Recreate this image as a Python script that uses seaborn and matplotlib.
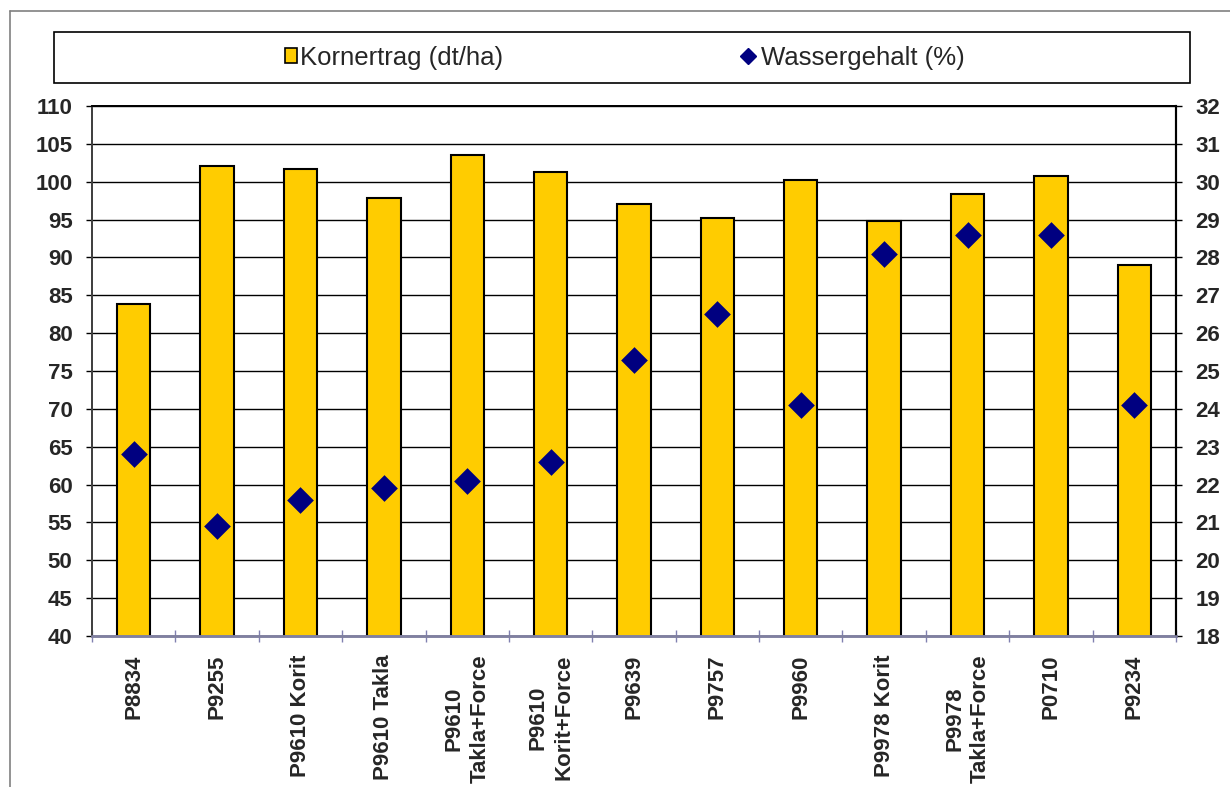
import matplotlib
matplotlib.use("Agg")
import matplotlib.pyplot as plt
import seaborn as sns
import pandas as pd
from matplotlib.patches import Patch, Rectangle
from matplotlib.lines import Line2D
from matplotlib.ticker import MultipleLocator, FixedLocator

categories = ["P8834", "P9255", "P9610 Korit", "P9610 Takla", "P9610\nTakla+Force",
              "P9610\nKorit+Force", "P9639", "P9757", "P9960", "P9978 Korit",
              "P9978\nTakla+Force", "P0710", "P9234"]
kornertrag = [83.8, 102.1, 101.7, 97.8, 103.5, 101.3, 97.1, 95.2, 100.2, 94.8, 98.4, 100.8, 89.0]
wassergehalt = [22.8, 20.9, 21.6, 21.9, 22.1, 22.6, 25.3, 26.5, 24.1, 28.1, 28.6, 28.6, 24.1]
label_bar = "Kornertrag (dt/ha)"
label_pts = "Wassergehalt (%)"

sns.set_style("white")
plt.rcParams['font.family'] = ['Liberation Sans', 'DejaVu Sans']

BAR = "#FFCC00"
NAVY = "#000080"

df = pd.DataFrame({"Sorte": categories, "Kornertrag": kornertrag, "Wassergehalt": wassergehalt})

W, H = 1230, 787
fig = plt.figure(figsize=(W / 100, H / 100), dpi=100)
ax = fig.add_axes([92 / W, 1 - 636 / H, (1176 - 92) / W, (636 - 106) / H])

sns.barplot(data=df, x="Sorte", y="Kornertrag", color=BAR, saturation=1,
            edgecolor="black", linewidth=1.5, width=0.4, ax=ax, zorder=2)
ax.set_ylim(40, 110)
ax.set_xlim(-0.5, len(categories) - 0.5)
ax.yaxis.set_major_locator(MultipleLocator(5))
ax.grid(axis="y", color="black", linewidth=1, zorder=0)
ax.grid(axis="x", visible=False)
ax.set_axisbelow(True)
ax.set_xlabel("")
ax.set_ylabel("")

ax2 = ax.twinx()
sns.scatterplot(data=df, x="Sorte", y="Wassergehalt", marker="D", s=185,
                color=NAVY, edgecolor=NAVY, linewidth=0, ax=ax2, zorder=3)
ax2.set_ylim(18, 32)
ax2.yaxis.set_major_locator(MultipleLocator(1))
ax2.set_xlim(-0.5, len(categories) - 0.5)
ax2.set_ylabel("")
ax2.set_xlabel("")
ax2.grid(False)

# ticks
ax.set_xticks(range(len(categories)))
ax.set_xticklabels(categories, rotation=90, fontsize=16, fontweight="bold",
                   ha="center", va="top", multialignment="center", linespacing=1.3)
ax.tick_params(axis="x", which="major", length=0, pad=13.5)
ax.xaxis.set_minor_locator(FixedLocator([i - 0.5 for i in range(len(categories) + 1)]))
ax.tick_params(axis="x", which="minor", direction="inout", length=9, width=1,
               color="#8080B0", bottom=True)
ax.tick_params(axis="y", which="major", direction="out", length=4.5, width=1,
               color="black", pad=9.5, labelsize=16, left=True)
for t in ax.get_yticklabels():
    t.set_fontweight("bold")
ax2.tick_params(axis="y", which="major", direction="out", length=4.5, width=1,
                color="black", pad=9.5, labelsize=16, right=True)
for t in ax2.get_yticklabels():
    t.set_fontweight("bold")
ax2.tick_params(axis="x", which="both", bottom=False, labelbottom=False)

# spines
for a in (ax, ax2):
    a.spines["top"].set_color("black")
    a.spines["top"].set_linewidth(1.3)
    a.spines["left"].set_color("#404040")
    a.spines["left"].set_linewidth(1.3)
    a.spines["right"].set_color("black")
    a.spines["right"].set_linewidth(1.5)
    a.spines["bottom"].set_color("#8080A0")
    a.spines["bottom"].set_linewidth(1.8)

# outer border of the chart area
fig.add_artist(Line2D([10 / W, 1], [1 - 11 / H, 1 - 11 / H], transform=fig.transFigure,
                      color="#808080", linewidth=1.2))
fig.add_artist(Line2D([10 / W, 10 / W], [0, 1 - 11 / H], transform=fig.transFigure,
                      color="#808080", linewidth=1.2))

# legend box
fig.add_artist(Rectangle((54 / W, 1 - 83 / H), 1136 / W, 51 / H, transform=fig.transFigure,
                         fill=False, edgecolor="black", linewidth=1.2))
ly = 1 - 57.5 / H
fs = 18.5
h1 = Patch(facecolor=BAR, edgecolor="black", linewidth=1.2)
leg1 = fig.legend(handles=[h1], labels=[label_bar], loc="center left",
                  bbox_to_anchor=(285 / W, ly), frameon=False, fontsize=fs,
                  handlelength=0.48, handleheight=0.48, handletextpad=0.12,
                  borderpad=0, borderaxespad=0)
h2 = Line2D([], [], marker="D", linestyle="none", color=NAVY, markersize=8)
leg2 = fig.legend(handles=[h2], labels=[label_pts], loc="center left",
                  bbox_to_anchor=(740 / W, ly), frameon=False, fontsize=fs,
                  handlelength=0.6, handletextpad=0.2,
                  borderpad=0, borderaxespad=0)

fig.savefig("out.png", dpi=100)
